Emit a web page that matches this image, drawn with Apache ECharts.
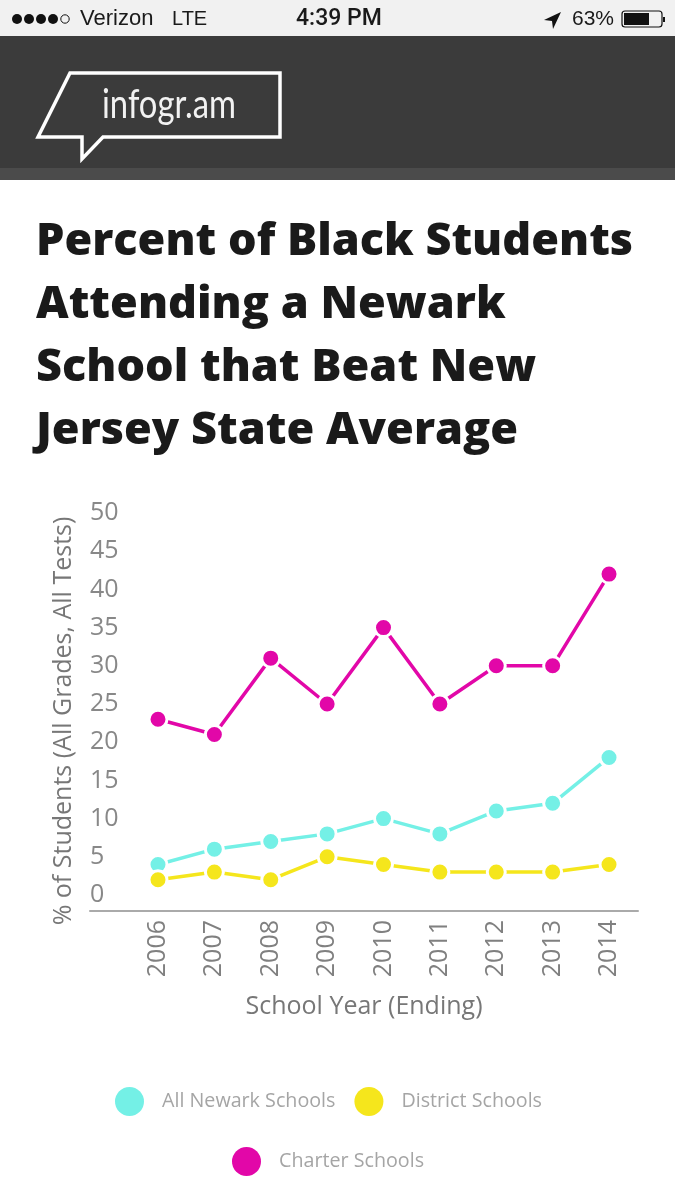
<!DOCTYPE html>
<html><head><meta charset="utf-8">
<style>html,body{margin:0;padding:0;background:#fff}#c{width:675px;height:1200px}</style>
<script src="https://cdn.jsdelivr.net/npm/echarts@6/dist/echarts.min.js"></script>
</head><body><div id="c"></div>
<script>
const years = [2006,2007,2008,2009,2010,2011,2012,2013,2014];
const allNewark = [4,6,7,8,10,8,11,12,18];
const district = [2,3,2,5,4,3,3,3,4];
const charter = [23,21,31,25,35,25,30,30,42];
const seriesNames = ['All Newark Schools','District Schools','Charter Schools'];
const seriesColors = ['#74f0e6','#f5e61c','#e207a8'];
const titleLines = ['Percent of Black Students','Attending a Newark','School that Beat New','Jersey State Average'];

const chart = echarts.init(document.getElementById('c'), null, {renderer:'canvas'});
const F = '"Open Sans"';
const statusText = (x,t,font) => ({type:'text',x,y:19,style:{text:t,fill:'#1a1a1a',font:font||'21px "Liberation Sans"',verticalAlign:'middle'}});
const dots = [0,1,2,3,4].map(i=>({type:'circle',shape:{cx:17+i*12,cy:19,r:i<4?5:4.2},style:i<4?{fill:'#111'}:{fill:'#f1f1f1',stroke:'#111',lineWidth:1}}));
const mkSeries = (i,vals)=>({
  name:seriesNames[i],type:'line',data:vals.map((v,k)=>[years[k],v]),
  symbol:'circle',symbolSize:18,showSymbol:true,
  lineStyle:{color:seriesColors[i],width:3.5},
  itemStyle:{color:seriesColors[i],borderColor:'#fff',borderWidth:3,opacity:1},
  animation:false,clip:false
});
const legendBase = {icon:'circle',itemWidth:29,itemHeight:29,itemGap:19,orient:'horizontal',padding:0,
  textStyle:{color:'#a5a5a5',fontFamily:F,fontSize:19.7,padding:[0,0,0,13]},
  itemStyle:{borderWidth:0},selectedMode:false};

chart.setOption({
  animation:false,backgroundColor:'#fff',
  title:{text:titleLines.join('\n'),left:36,top:211,padding:0,
    textStyle:{color:'#1a1a1a',fontFamily:F,fontWeight:800,fontSize:45,lineHeight:63}},
  grid:{left:90,right:37,top:513,bottom:305,containLabel:false},
  xAxis:{type:'value',min:2004.794,max:2014.514,offset:16,
    name:'School Year (Ending)',nameLocation:'middle',nameGap:83,
    nameTextStyle:{color:'#777',fontFamily:F,fontSize:25},
    axisLine:{show:true,onZero:false,lineStyle:{color:'#aaa',width:2}},
    axisTick:{show:false},splitLine:{show:false},
    axisLabel:{customValues:years,formatter:v=>String(v),rotate:90,margin:9,color:'#808080',fontFamily:F,fontSize:25}},
  yAxis:{type:'value',min:0,max:50,interval:5,
    name:'% of Students (All Grades, All Tests)',nameLocation:'middle',nameGap:14,
    nameTextStyle:{color:'#777',fontFamily:F,fontSize:25,padding:[0,34,0,0]},
    axisLine:{show:false},axisTick:{show:false},splitLine:{show:false},
    axisLabel:{inside:true,margin:0,align:'left',color:'#888',fontFamily:F,fontSize:25,padding:[0,0,12,0]}},
  legend:[
    Object.assign({},legendBase,{left:115,top:1087,data:seriesNames.slice(0,2)}),
    Object.assign({},legendBase,{left:232,top:1147,data:seriesNames.slice(2)})
  ],
  series:[mkSeries(0,allNewark),mkSeries(1,district),mkSeries(2,charter)],
  graphic:[
    {type:'rect',shape:{x:0,y:0,width:675,height:36},style:{fill:'#f1f1f1'},z:-1},
    {type:'rect',shape:{x:0,y:36,width:675,height:132},style:{fill:'#3b3b3b'},z:-1},
    {type:'rect',shape:{x:0,y:168,width:675,height:12},style:{fill:'#4b4b4b'},z:-1},
    ...dots,
    statusText(80,'Verizon','22px "Liberation Sans"'),statusText(172,'LTE','20px "Liberation Sans"'),
    statusText(296,'4:39 PM','500 23px Roboto'),
    {type:'polygon',shape:{points:[[544,20],[561,12],[553,29],[552,21]]},style:{fill:'#111'}},
    statusText(572,'63%'),
    {type:'rect',shape:{x:622,y:11,width:40,height:16,r:3},style:{fill:'none',stroke:'#111',lineWidth:1.2}},
    {type:'rect',shape:{x:624,y:13,width:25,height:12},style:{fill:'#111'}},
    {type:'rect',shape:{x:663,y:17,width:2,height:5},style:{fill:'#111'}},
    {type:'polygon',shape:{points:[[70,73],[280,73],[280,137],[103,137],[82,159],[82,137],[38,137]]},
      style:{fill:'none',stroke:'#fff',lineWidth:3.5}},
    {type:'text',x:102,y:105,scaleX:0.82,style:{text:'infogr.am',fill:'#f2f2f2',font:'400 40px Lato',verticalAlign:'middle'}}
  ]
});
</script></body></html>
